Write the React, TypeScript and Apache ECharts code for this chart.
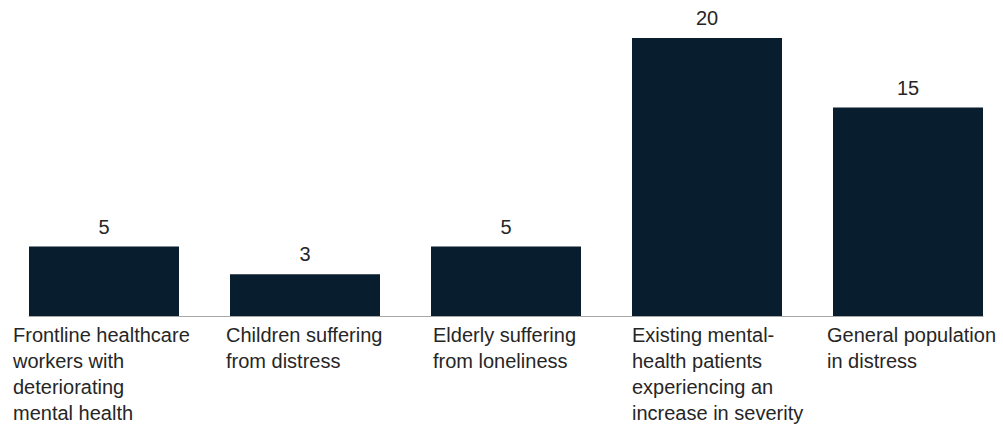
import React, { useEffect, useRef } from "react";
import * as echarts from "echarts";

const categories = [
  "Frontline healthcare\nworkers with\ndeteriorating\nmental health",
  "Children suffering\nfrom distress",
  "Elderly suffering\nfrom loneliness",
  "Existing mental-\nhealth patients\nexperiencing an\nincrease in severity",
  "General population\nin distress",
];
const values = [5, 3, 5, 20, 15];

const FONT = "'Liberation Sans', Arial, Helvetica, sans-serif";
const TEXT = "#262626";
const BAR = "#081d2d";
const FS = 20;
// width of the (centred) label box under each bar; lines are left-aligned in it
const labelBoxWidth = [182, 158, 146, 150, 162];

export default function App() {
  const ref = useRef<HTMLDivElement>(null);
  useEffect(() => {
    if (!ref.current) return;
    const chart = echarts.init(ref.current, null, { renderer: "svg" });
    chart.setOption({
      animation: false,
      grid: [
        { left: 3.5, width: 1005, top: 38, bottom: 111, containLabel: false, outerBoundsMode: "none" },
        { left: 29, width: 954, bottom: 111, height: 0, containLabel: false, outerBoundsMode: "none" },
      ],
      xAxis: [
        {
          type: "category",
          gridIndex: 0,
          data: categories.map((c, i) => ({ value: c, textStyle: { width: labelBoxWidth[i] } })),
          axisLine: { show: false },
          axisTick: { show: false },
          axisLabel: {
            interval: 0,
            margin: 6,
            align: "center",
            verticalAlign: "top",
            width: 150,
            overflow: "none",
            formatter: (v: string) =>
              v.split("\n").map((l) => `{a|${l}}`).join("\n"),
            rich: {
              a: {
                align: "left",
                fontFamily: FONT,
                fontSize: FS,
                lineHeight: 26,
                color: TEXT,
              },
            },
          },
        },
        {
          type: "value",
          gridIndex: 1,
          min: 0,
          max: 1,
          axisLine: { show: true, onZero: false, lineStyle: { color: "#a8a8a8", width: 1 } },
          axisTick: { show: false },
          axisLabel: { show: false },
          splitLine: { show: false },
        },
      ],
      yAxis: [
        { type: "value", gridIndex: 0, min: 0, max: 20, show: false, splitLine: { show: false } },
        { type: "value", gridIndex: 1, min: 0, max: 1, show: false, splitLine: { show: false } },
      ],
      series: [
        {
          type: "bar",
          xAxisIndex: 0,
          yAxisIndex: 0,
          data: values,
          barWidth: 150,
          itemStyle: { color: BAR },
          label: {
            show: true,
            position: "top",
            distance: 10,
            fontFamily: FONT,
            fontSize: FS,
            color: TEXT,
          },
        },
      ],
    });
    return () => chart.dispose();
  }, []);
  return <div ref={ref} style={{ width: 1003, height: 427, position: "absolute", left: 0, top: 0 }} />;
}
